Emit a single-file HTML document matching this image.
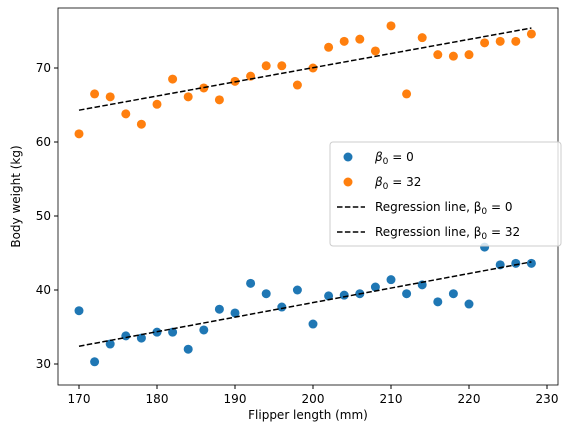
<!DOCTYPE html>
<html><head><meta charset="utf-8"><style>
body{margin:0;background:#fff;font-family:"Liberation Sans","DejaVu Sans",sans-serif}
svg text{font-family:"DejaVu Sans","Liberation Sans",sans-serif}
</style></head><body>
<svg id="c" width="569" height="432" xmlns="http://www.w3.org/2000/svg"></svg>
<script>
const xs=[170,172,174,176,178,180,182,184,186,188,190,192,194,196,198,200,202,204,206,208,210,212,214,216,218,220,222,224,226,228];
const blueVals=[37.2,30.3,32.7,33.8,33.5,34.3,34.3,32.0,34.6,37.4,36.9,40.9,39.5,37.7,40.0,35.4,39.2,39.3,39.5,40.4,41.4,39.5,40.7,38.4,39.5,38.1,45.8,43.4,43.6,43.6];
const orangeVals=[61.1,66.5,66.1,63.8,62.4,65.1,68.5,66.1,67.3,65.7,68.2,68.9,70.3,70.3,67.7,70.0,72.8,73.6,73.9,72.3,75.7,66.5,74.1,71.8,71.6,71.8,73.4,73.6,73.6,74.6];
const regX=[170,228];
const regBlue=[32.4,43.8];
const regOrange=[64.3,75.4];
const xTicks=[170,180,190,200,210,220,230];
const yTicks=[30,40,50,60,70];
const L=58,R=558,T=8,B=385;
const X=v=>79+(v-170)*7.8;
const Y=v=>364-(v-30)*7.4;
const s=document.getElementById('c');const NS='http://www.w3.org/2000/svg';
function mk(t,a,p){const e=document.createElementNS(NS,t);for(const k in a)e.setAttribute(k,a[k]);(p||s).appendChild(e);return e;}
let e;
xTicks.forEach(v=>{mk('line',{x1:X(v),x2:X(v),y1:B,y2:B+4,stroke:'#000'});
e=mk('text',{x:X(v),y:B+18,'text-anchor':'middle','font-size':12});e.textContent=v;

});
yTicks.forEach(v=>{mk('line',{x1:L-4,x2:L,y1:Y(v),y2:Y(v),stroke:'#000'});
e=mk('text',{x:L-7,y:Y(v)+4,'text-anchor':'end','font-size':12});e.textContent=v;

});
function pts(vals,col,name){vals.forEach((v,i)=>{e=mk('circle',{cx:X(xs[i]),cy:Y(v),r:4.5,fill:col});

});}
pts(blueVals,'#1f77b4','point-beta0-0');
pts(orangeVals,'#ff7f0e','point-beta0-32');
e=mk('line',{x1:X(regX[0]),y1:Y(regBlue[0]),x2:X(regX[1]),y2:Y(regBlue[1]),stroke:'#000','stroke-width':1.5,'stroke-dasharray':'5.5,2.4'});


e=mk('line',{x1:X(regX[0]),y1:Y(regOrange[0]),x2:X(regX[1]),y2:Y(regOrange[1]),stroke:'#000','stroke-width':1.5,'stroke-dasharray':'5.5,2.4'});


mk('rect',{x:L,y:T,width:R-L,height:B-T,fill:'none',stroke:'#000','stroke-width':0.8});
e=mk('text',{x:(L+R)/2,y:419,'text-anchor':'middle','font-size':12});e.textContent='Flipper length (mm)';

e=mk('text',{x:20,y:(T+B)/2,'text-anchor':'middle','font-size':12,transform:`rotate(-90 20 ${(T+B)/2})`});e.textContent='Body weight (kg)';

const g=mk('g',{});
mk('rect',{x:330,y:142,width:231,height:104,rx:3,fill:'#fff','fill-opacity':0.8,stroke:'#ccc'},g);
const items=[['c','#1f77b4','β',' = 0'],['c','#ff7f0e','β',' = 32'],['l','','Regression line, β',' = 0'],['l','','Regression line, β',' = 32']];
items.forEach((it,i)=>{const y=157+i*25;
if(it[0]=='c')mk('circle',{cx:348,cy:y,r:4.5,fill:it[1]},g);else mk('line',{x1:337,x2:365,y1:y,y2:y,stroke:'#000','stroke-width':1.5,'stroke-dasharray':'5.5,2.4'},g);
const t=mk('text',{x:375,y:y+4,'font-size':12},g);
const a=mk('tspan',{'font-style':it[0]=='c'?'italic':'normal'},t);a.textContent=it[2];
const sub=mk('tspan',{'font-size':9,dy:3},t);sub.textContent='0';
const b=mk('tspan',{dy:-3},t);b.textContent=it[3];
});
</script></body></html>
